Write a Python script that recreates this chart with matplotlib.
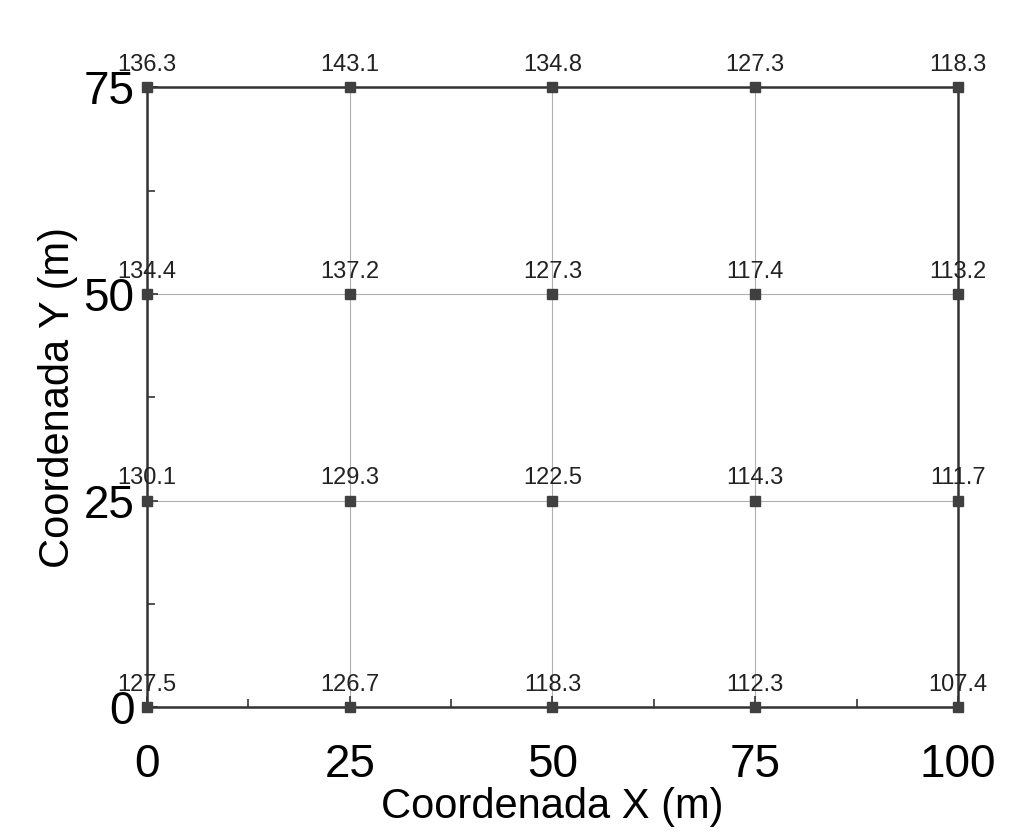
import numpy as np
import matplotlib.pyplot as plt
from matplotlib.ticker import MultipleLocator

plt.rcParams['font.family'] = ['Liberation Sans', 'DejaVu Sans']

# grid coordinates (m)
x_coords = [0, 25, 50, 75, 100]
y_coords = [0, 25, 50, 75]

# measured values at each node, one row per y coordinate
row_y0 = [127.5, 126.7, 118.3, 112.3, 107.4]
row_y25 = [130.1, 129.3, 122.5, 114.3, 111.7]
row_y50 = [134.4, 137.2, 127.3, 117.4, 113.2]
row_y75 = [136.3, 143.1, 134.8, 127.3, 118.3]
rows = [row_y0, row_y25, row_y50, row_y75]

fig = plt.figure(figsize=(10.1, 8.39), dpi=100)
ax = fig.add_axes([0.1455, 0.157, 0.803, 0.739])

# thin grid lines between nodes
for yv in y_coords:
    ax.plot(x_coords, [yv] * len(x_coords), color='#b0b0b0', lw=0.8, zorder=1)
for xv in x_coords:
    ax.plot([xv] * len(y_coords), y_coords, color='#b0b0b0', lw=0.8, zorder=1)

for yv, vals in zip(y_coords, rows):
    ax.plot(x_coords, [yv] * len(x_coords), ls='none', marker='s', ms=7,
            color='#404040', zorder=3, clip_on=False)
    for xv, v in zip(x_coords, vals):
        ax.annotate(f"{v:.1f}", (xv, yv), xytext=(0, 8), textcoords='offset points',
                    ha='center', va='bottom', fontsize=17, color='#222222')

ax.set_xlim(0, 100)
ax.set_ylim(0, 75)
ax.xaxis.set_major_locator(MultipleLocator(25))
ax.yaxis.set_major_locator(MultipleLocator(25))
ax.xaxis.set_minor_locator(MultipleLocator(12.5))
ax.yaxis.set_minor_locator(MultipleLocator(12.5))
ax.tick_params(which='both', direction='in', color='#333333', width=1.2)
ax.tick_params(which='major', length=8, labelsize=33)
ax.tick_params(axis='x', which='major', pad=26)
ax.tick_params(axis='y', which='major', pad=9)
ax.tick_params(which='minor', length=6)
for s in ax.spines.values():
    s.set_linewidth(1.8)
    s.set_color('#333333')

ax.set_xlabel("Coordenada X (m)", fontsize=30, labelpad=0)
ax.set_ylabel("Coordenada Y (m)", fontsize=30, labelpad=4)

fig.savefig("out.png", dpi=100)
